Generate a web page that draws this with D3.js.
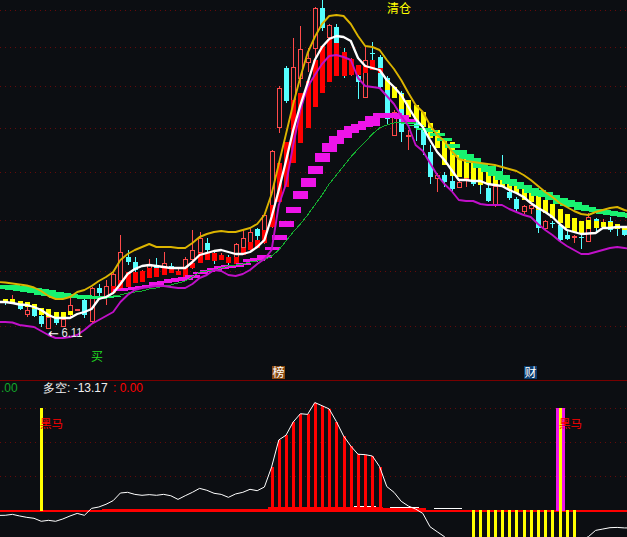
<!DOCTYPE html>
<html><head><meta charset="utf-8">
<style>html,body{margin:0;padding:0;background:#0c0e12;overflow:hidden}svg{display:block}text{font-family:"Liberation Sans",Arial,sans-serif}.cjk{font-family:"Noto Sans CJK SC",sans-serif}.arr{font-family:"DejaVu Sans",sans-serif}</style>
<script src="https://cdn.jsdelivr.net/npm/d3@7"></script></head><body><svg id="c" width="627" height="537"></svg>
<script>
// Main panel values are on an index scale (0 at the bottom, 400 at the top). Index -1..87 for the lines.
const gridMain=[390,353,314,272,228,180,129,74];
const gridSub=[75,50,25];
const gold=[118,117.5,116.5,115.5,114.5,112.5,109,104,101,101,103,108,110,114,119,123,128,140,146,150,153,156,153,153,153,152,152,157,163,166,168,169,168,168,170,172,176,185,206,236,266,296,323,347,363,376,384,385,384,376,364,354,353,350,340,331,320,307,295,288,275,265,259,249,241,239,238,237,236,235,233,231,229,225,220,214,208,203,197,193,189,186,185,188,190,192,193,190,188];
const white=[98,98,97,95.5,95,93,90,85,82,82,82,86,88,91,101,103,107,116,126,131,134,135,134,133,132,132,132,138,145,147,149,150,148,146,146,148,153,160,183,210,239,270,295,317,340,353,361,364,363,359,342,334,332,330,320,313,305,293,281,273,260,248,240,230,220,220,219,219,216,215,214,210,207,203,197,192,188,183,176,170,168,166,166.5,167,172,172,173,173,173];
const purple=[78,78,77.5,75,74,73,69,65,62,62,63,65,70,76,80,84,88,98,105,110,112,113,114,114,113,112,112,116,122,125,130,129,125,124,126,130,136,141,150,195,216,255,290,313,325,336,344,345,343,340,322,314,313,312,304,296,284,274,255,249,237,225,216,209,200,199,199,196,195,195,195,191,188,185,183,176,170,165,159,154,150,146,146,148,150,152,153,152,151];
const thinStart=15;
const thin=[104,105,107,108,109,111,112,114,115,117,119,123,128,129,130,132,134,135,136,138,139,140,144,150,159,168,176,185,195,205,216,225,234,243,251,258,266,272,275,277,278,278,277];
const open=[100,97,96,86,91,84,72,81,74,87,90,100,79,112,103,112,112,143,138,120,132,135,132,134,126,132,141,148,157,147,141,143,137,153,158,171,158,195,273,332,298,322,338,352,392,363,373,348,326,324,303,347,343,322,265,307,264,277,270,248,222,225,219,213,220,221,216,212,195,222,208,201,189,192,190,172,177,175,165,163,163,159,181,174,179,174,170];
const close=[97,101,91,90,84,76,83,77,81,95,91,85,112,107,114,126,148,138,130,128,135,132,137,132,129,141,150,162,150,142,145,137,156,162,168,164,185,249,312,299,333,351,342,392,372,375,357,325,340,318,340,346,313,281,288,268,265,272,255,223,225,218,211,218,222,216,215,199,214,214,202,191,194,195,172,179,176,160,161,164,162,183,173,178,170,171,165];
const high=[101,105,98,95,93,86,85,88,82,102,91,105,113,116,120,127,165,150,143,130,141,142,148,137,132,143,170,168,162,150,147,145,157,171,173,172,186,250,314,334,362,374,352,393,400,376,376,352,342,330,354,358,345,324,290,309,270,280,275,255,227,228,227,219,223,222,217,215,215,245,210,203,195,196,192,180,179,176,170,165,167,187,182,181,183,176,172];
const low=[95,96,90,83,83,73,72,75,74,82,90,82,77,100,95,111,111,135,128,119,131,130,130,128,125,123,131,147,146,136,140,132,133,145,150,160,156,172,267,297,290,313,328,340,369,350,350,322,324,301,302,333,310,275,264,258,250,259,245,216,208,213,209,212,213,214,206,198,193,213,200,189,186,186,167,170,172,159,160,157,151,158,168,173,168,164,164];
// overlay bars [top, bottom]
const yellowLeft=[[101,97],[101,96],[99,95],[98,93],[96,91],[92,85],[91,83],[88,81],[88,81],[89,85]];
const redStart=15;
const redBars=[[114,107],[120,112],[128,113],[128,117],[129,118],[132,122],[132,123],[132,125],[131,127],[129,125],[132,123],[137,132],[147,137],[148,140],[147,139],[145,140],[143,137],[143,136],[152,145],[158,150],[160,152],[170,157],[195,173],[237,198],[258,213],[300,237],[307,257],[319,272],[340,293],[354,307],[361,318],[357,324],[348,324],[341,325],[335,325],[335,327],[340,330],[332,327]];
const yellowStart=53;
const yellowRight=[[320,310],[313,302],[306,291],[300,283],[295,279],[288,273],[277,262],[270,252],[262,235],[258,224],[247,223],[244,222],[240,220],[235,215],[230,216],[228,215],[224,213],[220,210],[217,207],[212,200],[210,198],[205,190],[200,187],[196,182],[191,177],[186,172],[182,168],[179,166],[180,171],[179,172],[178,173],[178,172],[176,171],[174,170]];
// ribbon blocks
const greenLeft=[[115,111],[115,111],[115,110],[114,109],[113,108],[112,107],[111,105],[110,104],[108,102],[107,102],[106,102],[105,102],[105,101],[104,101],[104,101],[104,102],[104,103]];
const magentaStart=16;
const magenta=[[111,109],[112,110],[113,111],[114,112],[115,113],[118,115],[119,117],[121,118],[122,119],[123,120],[125,122],[128,126],[130,128],[132,129],[134,131],[135,132],[135,133],[137,135],[141,138],[142,139],[145,142],[153,150],[165,160],[179,173],[193,187],[209,201],[222,213],[234,226],[247,238],[257,248],[264,256],[270,262],[274,267],[276,270],[279,273],[284,274],[287,282],[287,282],[287,282],[285,281],[281,278]];
const greenRightStart=56;
const greenRight=[[277,276],[275,274],[272,270],[270,268],[267,264],[262,259],[256,252],[250,245],[246,241],[242,237],[237,232],[234,228],[229,224],[225,220],[221,216],[218,214],[215,211],[212,207],[210,204],[208,203],[205,200],[202,196],[200,194],[198,193],[195,190],[193,189],[191,188],[190,186],[189,185],[188,184],[187,183],[186,182]];
// lower panel
const duokongLeft=-4;
const duokong=[-3.9,-3.2,-4.4,-5.4,-6.1,-8.3,-7.6,-8.3,-6.6,-4.4,-2.5,-3.9,1.2,2.2,4.2,6.9,12.5,13,11.5,10.8,11.3,10.8,11.5,10.5,7.8,10.5,13,15.9,14.5,12.3,11.5,9.3,11.8,13,15.2,14.2,16.9,31.6,51.5,55,64.7,70.8,70.3,79,76.7,74.3,65,54.4,47,41,40.7,39.7,31.9,17.2,13,6.4,2.9,0.7,-2.5,-12.3,-16,-19.6,-24,-28,-31,-34,-36,-38,-40,-41,-42,-42,-41,-40,-38,-36,-34,-31,-28,-25,-22,-19.6,-15,-14,-13,-12.8,-13.17,-13.17];
const redStemFrom=37, redStemTo=52;
const yellowStems=[65,66,67,68,69,70,71,72,73,74,75,76,77,78,79];
const stemLow=-25;
const signalBars=[5,77];
const signalPink=[77];
const baseBand=[[14,36,1],[37,52,2.4],[53,58,1.2]];
const whiteDashes=[[49,51,2.3],[54,57,1.4],[60,63,0.7]];
const labelDuokong="多空: -13.17", labelRed=": 0.00", labelGreen=".00", labelLow="6.11";

const svg=d3.select("#c");
const x=d3.scaleLinear().domain([0,86]).range([5.2,624.4]);
const y=d3.scaleLinear().domain([0,400]).range([400,0]);
const ys=d3.scaleLinear().domain([0,75]).range([510,408]);
const W=627,H=537,bg="#0c0e12";
const px=i=>Math.round(x(i));
svg.append("rect").attr("width",W).attr("height",H).attr("fill",bg);
const gridCol="#660a0a";
const g=svg.append("g").attr("shape-rendering","crispEdges");
g.selectAll(".gm").data(gridMain).join("line").attr("x1",0).attr("x2",W).attr("y1",d=>Math.round(y(d))+.5).attr("y2",d=>Math.round(y(d))+.5).attr("stroke",gridCol).attr("stroke-dasharray","1 4");
g.selectAll(".gs").data(gridSub).join("line").attr("class","gs").attr("x1",0).attr("x2",W).attr("y1",d=>Math.round(ys(d))+.5).attr("y2",d=>Math.round(ys(d))+.5).attr("stroke",gridCol).attr("stroke-dasharray","1 4");
g.append("line").attr("x1",0).attr("x2",W).attr("y1",380.5).attr("y2",380.5).attr("stroke","#780000");

// candles
const candles=d3.range(open.length).map(i=>({i,o:open[i],c:close[i],h:high[i],l:low[i],up:close[i]>=open[i]}));
const cg=g.append("g");
cg.selectAll("line.w").data(candles).join("line").attr("class","w").attr("x1",d=>px(d.i)+.5).attr("x2",d=>px(d.i)+.5).attr("y1",d=>y(d.h)).attr("y2",d=>y(d.l)).attr("stroke",d=>d.up?"#ff4a4a":"#55ffff");
cg.selectAll("rect.b").data(candles).join("rect").attr("class","b")
 .attr("x",d=>d.up?px(d.i)-2+.5:px(d.i)-2).attr("width",d=>d.up?4:5)
 .attr("y",d=>Math.round(y(Math.max(d.o,d.c)))+(d.up?.5:0)).attr("height",d=>Math.max(1,Math.round(Math.abs(d.o-d.c))))
 .attr("fill",d=>d.up?bg:"#55ffff").attr("stroke",d=>d.up?"#ff4a4a":"none");

// overlay bars
function bars(arr,start,col,w){
  g.append("g").selectAll("rect").data(arr).join("rect")
   .attr("x",(d,k)=>px(k+start)-Math.floor(w/2)).attr("width",w)
   .attr("y",d=>y(d[0])).attr("height",d=>y(d[1])-y(d[0])).attr("fill",col);
}
bars(yellowLeft,0,"#ffff00",5);
bars(redBars,redStart,"#ff0000",5);
bars(yellowRight,yellowStart,"#ffff00",5);
bars(greenLeft,-1,"#18f270",15);
bars(magenta,magentaStart,"#ee14e8",15);
bars(greenRight,greenRightStart,"#18f270",15);

// lines
const line=(arr,start,col,w)=>svg.append("path").datum(arr)
 .attr("d",d3.line().x((d,k)=>x(k+start)).y(d=>y(d))).attr("fill","none").attr("stroke",col).attr("stroke-width",w).attr("stroke-linejoin","round");
line(thin,thinStart,"#14b030",1).attr("shape-rendering","crispEdges");
line(gold,-1,"#dcb400",1.9);
line(purple,-1,"#c010c8",1.9);
line(white,-1,"#ffffff",2.3);

// lower panel
const sp=svg.append("g").attr("shape-rendering","crispEdges");
sp.append("rect").attr("x",0).attr("width",W).attr("y",510).attr("height",2).attr("fill","#ff0000");
baseBand.forEach(([a,b,v])=>sp.append("rect").attr("x",x(a)-3.6).attr("width",x(b)-x(a)+7.2).attr("y",ys(v)).attr("height",ys(0)-ys(v)+1).attr("fill","#ff0000"));
whiteDashes.forEach(([a,b,v])=>sp.append("rect").attr("x",x(a)-3.6).attr("width",x(b)-x(a)+7.2).attr("y",ys(v)-1).attr("height",1).attr("fill","#ffffff"));
sp.selectAll("rect.rs").data(d3.range(redStemFrom,redStemTo+1)).join("rect").attr("class","rs")
 .attr("x",i=>px(i)-1).attr("width",3).attr("y",i=>ys(duokong[i])).attr("height",i=>ys(0)-ys(duokong[i])).attr("fill","#ff0000");
sp.selectAll("rect.ys").data(yellowStems).join("rect").attr("class","ys")
 .attr("x",i=>px(i)-1).attr("width",3).attr("y",ys(0)).attr("height",ys(stemLow)-ys(0)).attr("fill","#ffff00");
sp.selectAll("rect.pk").data(signalPink).join("rect").attr("class","pk")
 .attr("x",i=>px(i)-4).attr("width",9).attr("y",ys(75)).attr("height",ys(0)-ys(75)+1).attr("fill","#ee14e8");
sp.selectAll("rect.sg").data(signalBars).join("rect").attr("class","sg")
 .attr("x",i=>px(i)-1).attr("width",3).attr("y",ys(75)).attr("height",ys(0)-ys(75)+1).attr("fill","#ffff00");
svg.append("path").datum([duokongLeft].concat(duokong)).attr("d",d3.line().x((d,k)=>x(k-1)).y(d=>ys(d))).attr("fill","none").attr("stroke","#ffffff").attr("stroke-width",1);

// labels
const t=(s,xx,yy,col,size,cls)=>svg.append("text").text(s).attr("x",xx).attr("y",yy).attr("fill",col).attr("font-size",size).attr("class",cls||null);
t("清仓",387,13,"#ffff00",12,"cjk");
t("买",91,361,"#22dd22",12,"cjk");
t("←",48,338,"#ffffff",13,"arr");
t(labelLow,61.5,337,"#e8e8e8",13).attr("textLength",21).attr("lengthAdjust","spacingAndGlyphs");
svg.append("rect").attr("x",272).attr("y",366).attr("width",13).attr("height",13).attr("fill","#8a4a10");
t("榜",272.5,377,"#ffffff",12,"cjk");
svg.append("rect").attr("x",524).attr("y",366).attr("width",13).attr("height",13).attr("fill","#0a3c6e");
t("财",524.5,377,"#ffffff",12,"cjk");
t(labelGreen,1,392,"#12a82a",12);
t(labelDuokong,43,392,"#f0f0f0",12);
t(labelRed,113,392,"#ff0000",12);
t("黑马",40,428,"#ff0000",11.5,"cjk");
t("黑马",559,428,"#ff0000",11.5,"cjk");
</script></body></html>
